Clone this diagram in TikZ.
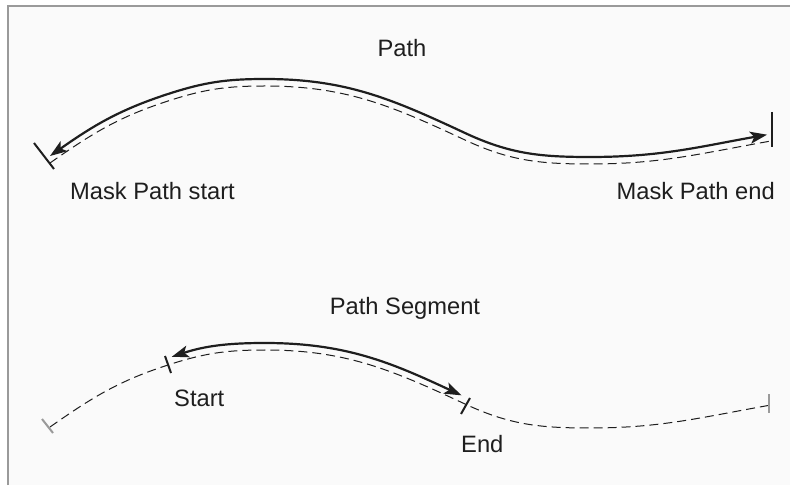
\documentclass[tikz,border=0pt]{standalone}
\usepackage{fontspec}
\setmainfont{Liberation Sans}
\usetikzlibrary{arrows.meta,calc}

\definecolor{framegray}{HTML}{9A9A9A}
\definecolor{paper}{HTML}{FAFAFA}
\definecolor{ink}{HTML}{1E1E1E}

\begin{document}
\begin{tikzpicture}[x=1pt, y=1pt,
  >={Stealth[length=17pt,width=12pt,inset=4pt]},
  lbl/.style={font=\fontsize{23.7}{28}\selectfont, text=ink, inner sep=0pt},
  mask/.style={dash pattern=on 9pt off 5pt, line width=1pt, ink},
  seg/.style={line width=2.2pt, ink},
  tick/.style={line width=2pt, ink},
  faint/.style={line width=2pt, framegray}]
\useasboundingbox (0,0) rectangle (790,485);

% Frame %
\fill[paper] (8,0) rectangle (790,479);
\draw[framegray, line width=2pt] (8,0) -- (8,479) -- (790,479);

% Points of the mask path %
\coordinate (m0) at (50,322);
\coordinate (m1) at (168,384);
\coordinate (m2) at (265,399);
\coordinate (m3) at (465,345);
\coordinate (m4) at (590,321);
\coordinate (m5) at (771,344);

\coordinate (p0) at (50,329);
\coordinate (p1) at (168,391);
\coordinate (p2) at (265,406);
\coordinate (p3) at (465,352);
\coordinate (p4) at (590,328);
\coordinate (p5) at (771,351);

% Points of the segment %
\coordinate (n0) at (50,58);
\coordinate (n1) at (168,120);
\coordinate (n2) at (265,135);
\coordinate (n3) at (465,81);
\coordinate (n4) at (590,57);
\coordinate (n5) at (771,80);

\coordinate (q1) at (168,127);
\coordinate (q2) at (265,142);
\coordinate (q3) at (465,88);

% Labels %
\node[lbl, anchor=base] (path) at (402,428) {Path};
\node[lbl, anchor=base west] (mstart) at (70,285) {Mask Path start};
\node[lbl, anchor=base east] (mend) at (775,285) {Mask Path end};
\node[lbl, anchor=base] (pseg) at (405,170) {Path Segment};
\node[lbl, anchor=base west] (sstart) at (174,79) {Start};
\node[lbl, anchor=base west] (send) at (461,33) {End};

% Whole path %
\draw[mask] (m0) to [out=35, in=198] (m1) to [out=18, in=180] (m2)
  to [out=0, in=155] (m3) to [out=-25, in=180] (m4) to [out=0, in=190] (m5);
\draw[seg, <->, shorten >=4pt] (p0) to [out=35, in=198] (p1) to [out=18, in=180] (p2)
  to [out=0, in=155] (p3) to [out=-25, in=180] (p4) to [out=0, in=190] (p5);
\draw[tick] ($(m0)+(-16,20)$) -- ($(m0)+(4,-6)$);
\draw[tick] ($(m5)+(1,29)$) -- ($(m5)+(1,-6)$);

% Segment of the path %
\draw[mask] (n0) to [out=35, in=198] (n1) to [out=18, in=180] (n2)
  to [out=0, in=155] (n3) to [out=-25, in=180] (n4) to [out=0, in=190] (n5);
\draw[seg, <->, shorten <=4pt, shorten >=4pt] (q1) to [out=18, in=180] (q2)
  to [out=0, in=155] (q3);
\draw[faint] ($(n0)+(-8,8)$) -- ($(n0)+(3,-6)$);
\draw[tick] ($(n1)+(-3,9)$) -- ($(n1)+(3,-8)$);
\draw[tick] ($(n3)+(5,6)$) -- ($(n3)+(-4,-10)$);
\draw[faint] ($(n5)+(-2,11)$) -- ($(n5)+(-2,-8)$);

\end{tikzpicture}
\end{document}
